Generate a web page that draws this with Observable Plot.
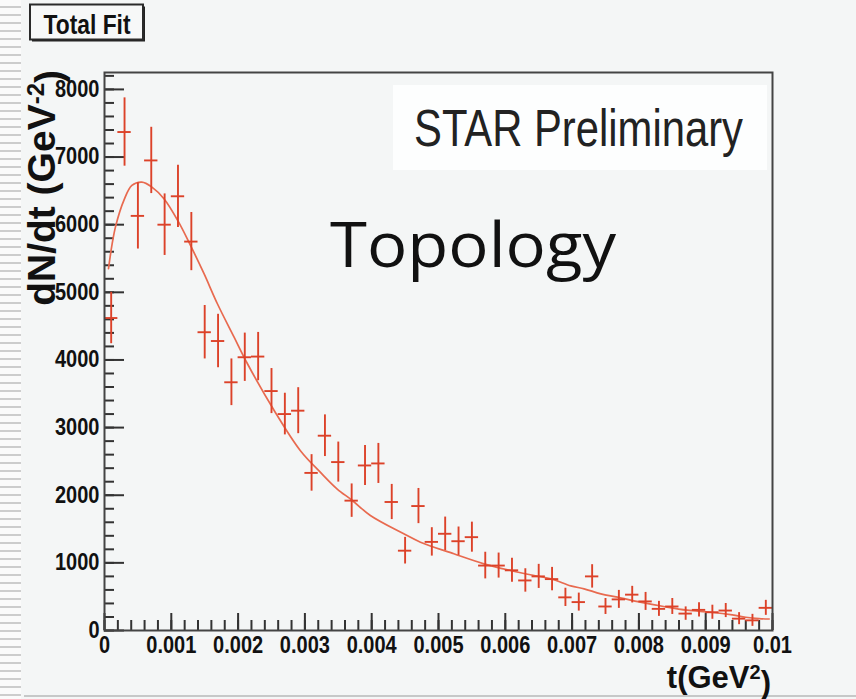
<!DOCTYPE html>
<html>
<head>
<meta charset="utf-8">
<script src="https://cdn.jsdelivr.net/npm/d3@7"></script>
<script src="https://cdn.jsdelivr.net/npm/@observablehq/plot@0.6"></script>
<style>
  html, body { margin: 0; padding: 0; background: #f4f6f6; }
  #wrap { position: relative; width: 856px; height: 699px; overflow: hidden; background: #f4f6f6; }
  #stripes {
    position: absolute; left: 0; top: 0; width: 21px; height: 699px;
    background: repeating-linear-gradient(to bottom, #fbfbfb 0px, #fbfbfb 6px, #cdcdcd 6px, #cdcdcd 8px);
  }
  #edge { position: absolute; left: 24px; right: 0; top: 695px; height: 2px; background: #c6c8c8; }
  #wrap svg { position: absolute; left: 0; top: 0; }
</style>
</head>
<body>
<div id="wrap"><div id="stripes"></div><div id="edge"></div></div>
<script>
// t bin centres (GeV^2), bins 0.0002 wide
const tCenters = [
  0.0001, 0.0003, 0.0005, 0.0007, 0.0009, 0.0011, 0.0013, 0.0015, 0.0017, 0.0019,
  0.0021, 0.0023, 0.0025, 0.0027, 0.0029, 0.0031, 0.0033, 0.0035, 0.0037, 0.0039,
  0.0041, 0.0043, 0.0045, 0.0047, 0.0049, 0.0051, 0.0053, 0.0055, 0.0057, 0.0059,
  0.0061, 0.0063, 0.0065, 0.0067, 0.0069, 0.0071, 0.0073, 0.0075, 0.0077, 0.0079,
  0.0081, 0.0083, 0.0085, 0.0087, 0.0089, 0.0091, 0.0093, 0.0095, 0.0097, 0.0099
];
const binHalfWidth = 0.0001;

// dN/dt per bin (GeV^-2)
const dNdt = [
  4620, 7370, 6130, 6950, 6000, 6420, 5750, 4410, 4280, 3670,
  4040, 4050, 3540, 3200, 3250, 2330, 2880, 2490, 1920, 2440,
  2470, 1900, 1180, 1840, 1310, 1430, 1320, 1380, 960, 960,
  890, 740, 800, 760, 490, 420, 800, 355, 460, 530,
  430, 320, 355, 250, 305, 270, 295, 175, 150, 335
];

// statistical uncertainty per bin
const dNdtErr = [
  380, 505, 490, 490, 455, 460, 430, 395, 395, 345,
  357, 357, 333, 308, 340, 270, 308, 296, 247, 296,
  296, 260, 197, 260, 210, 247, 210, 222, 197, 185,
  178, 173, 178, 173, 135, 133, 173, 118, 133, 123,
  133, 111, 118, 99, 104, 104, 104, 89, 89, 111
];

// total fit function, sampled
const fitT = [
  0.00006, 0.000115, 0.00017, 0.00029, 0.00041, 0.00056, 0.00071, 0.00089, 0.00111, 0.0013,
  0.00149, 0.00169, 0.00194, 0.00214, 0.00254, 0.00293, 0.00323, 0.00348, 0.00371, 0.00398,
  0.00448, 0.00473, 0.00523, 0.00568, 0.00608, 0.00643, 0.00670, 0.00698, 0.00718, 0.00743,
  0.00768, 0.00802, 0.00837, 0.00872, 0.00907, 0.0094, 0.0096, 0.0098, 0.00995
];
const fitV = [
  5350, 5720, 5990, 6360, 6580, 6630, 6556, 6384, 6038, 5668,
  5275, 4831, 4337, 3944, 3253, 2662, 2341, 2095, 1922, 1701,
  1430, 1306, 1134, 986, 887, 813, 760, 660, 616, 542,
  493, 419, 355, 300, 270, 230, 196, 176, 170
];

// axis ticks
const xTickValues = [0, 0.001, 0.002, 0.003, 0.004, 0.005, 0.006, 0.007, 0.008, 0.009, 0.01];
const xTickLabels = ["0", "0.001", "0.002", "0.003", "0.004", "0.005", "0.006", "0.007", "0.008", "0.009", "0.01"];
const yTickValues = [0, 1000, 2000, 3000, 4000, 5000, 6000, 7000, 8000];
const yTickLabels = ["0", "1000", "2000", "3000", "4000", "5000", "6000", "7000", "8000"];
const xMinorTicks = d3.range(0, 51).map(i => i * 0.0002);
const yMinorTicks = d3.range(0, 42).map(i => i * 200);

const W = 856, H = 699;
const mL = 104, mR = 84, mT = 72, mB = 69;
const frameW = W - mL - mR;
const frameH = H - mT - mB;

const points = tCenters.map((t, i) => ({t, v: dNdt[i], e: dNdtErr[i]}));
const fit = fitT.map((t, i) => ({t, v: fitV[i]}));
const xLabel = new Map(xTickValues.map((v, i) => [v, xTickLabels[i]]));
const yLabel = new Map(yTickValues.map((v, i) => [v, yTickLabels[i]]));

const dataColor = "#dc4229";
const fitColor = "#e86a4f";
const axisColor = "#333";
const bold = "'Liberation Sans', Arial, Helvetica, sans-serif";

const chart = Plot.plot({
  width: W, height: H,
  marginLeft: mL, marginRight: mR, marginTop: mT, marginBottom: mB,
  style: {background: "transparent", fontFamily: bold, overflow: "visible"},
  x: {domain: [0, 0.01]},
  y: {domain: [0, 8250]},
  marks: [
    // inward ticks on the bottom and left frame edges
    Plot.ruleX(xMinorTicks, {insetTop: frameH - 10, stroke: axisColor, strokeWidth: 2}),
    Plot.ruleX(xTickValues, {insetTop: frameH - 17, stroke: axisColor, strokeWidth: 2}),
    Plot.ruleY(yMinorTicks, {insetRight: frameW - 10, stroke: axisColor, strokeWidth: 2}),
    Plot.ruleY(yTickValues, {insetRight: frameW - 20, stroke: axisColor, strokeWidth: 2}),
    // fit curve
    Plot.line(fit, {x: "t", y: "v", stroke: fitColor, strokeWidth: 1.7, curve: "catmull-rom"}),
    // data points with error bars
    Plot.ruleX(points, {x: "t", y1: d => d.v - d.e, y2: d => d.v + d.e, stroke: dataColor, strokeWidth: 1.9}),
    Plot.ruleY(points, {y: "v", x1: d => d.t - binHalfWidth, x2: d => d.t + binHalfWidth, stroke: dataColor, strokeWidth: 1.9}),
    Plot.frame({stroke: "#444", strokeWidth: 2}),
    Plot.axisX(xTickValues, {
      tickSize: 0, tickPadding: 6, tickFormat: d => xLabel.get(d), label: null,
      fontSize: 23, fontWeight: "bold", fill: "#111"
    }),
    Plot.axisY(yTickValues, {
      tickSize: 0, tickPadding: 5, tickFormat: d => yLabel.get(d), label: null,
      fontSize: 23, fontWeight: "bold", fill: "#111"
    })
  ]
});

document.getElementById("wrap").appendChild(chart);

const svg = d3.select(chart);

// narrow the bold tick labels so they read tall and condensed
svg.selectAll("g[aria-label$='tick label'] text").each(function() {
  const len = this.getComputedTextLength();
  this.setAttribute("textLength", (len * 0.87).toFixed(1));
  this.setAttribute("lengthAdjust", "spacingAndGlyphs");
});

// "Total Fit" title box with shadow
const title = svg.append("g");
title.append("rect").attr("x", 32).attr("y", 6.5).attr("width", 113).attr("height", 35).attr("fill", "#222");
title.append("rect").attr("x", 30).attr("y", 4.5).attr("width", 113).attr("height", 35)
  .attr("fill", "#f7f8f8").attr("stroke", "#2a2a2a").attr("stroke-width", 2);
title.append("text").attr("x", 87).attr("y", 34).attr("text-anchor", "middle")
  .attr("font-family", bold).attr("font-weight", "bold").attr("font-size", 27)
  .attr("textLength", 87).attr("lengthAdjust", "spacingAndGlyphs")
  .attr("fill", "#111").text("Total Fit");

// preliminary label
svg.append("rect").attr("x", 393).attr("y", 85).attr("width", 374).attr("height", 85).attr("fill", "#fdfefe");
svg.append("text").attr("x", 414).attr("y", 146).attr("text-anchor", "start")
  .attr("font-family", "'Liberation Sans', Arial, sans-serif").attr("font-size", 52)
  .attr("textLength", 329).attr("lengthAdjust", "spacingAndGlyphs")
  .attr("fill", "#222").text("STAR Preliminary");

svg.append("text").attr("x", 330).attr("y", 267).attr("text-anchor", "start")
  .attr("font-family", "'Open Sans', 'Noto Sans', sans-serif").attr("font-size", 63)
  .attr("textLength", 286).attr("lengthAdjust", "spacingAndGlyphs")
  .attr("fill", "#111").text("Topology");

// axis titles
const yTitle = svg.append("text")
  .attr("transform", "translate(55,70) rotate(-90)")
  .attr("text-anchor", "end")
  .attr("font-family", bold).attr("font-weight", "bold").attr("font-size", 39).attr("fill", "#111");
yTitle.append("tspan").text("dN/dt (GeV");
yTitle.append("tspan").attr("dy", "-0.45em").attr("font-size", 24).text("-2");
yTitle.append("tspan").attr("dy", "0.45em").text(")");

const xTitle = svg.append("text")
  .attr("x", 771).attr("y", 688)
  .attr("text-anchor", "end")
  .attr("font-family", bold).attr("font-weight", "bold").attr("font-size", 31).attr("fill", "#111");
xTitle.append("tspan").text("t(GeV");
xTitle.append("tspan").attr("dy", "-0.45em").attr("font-size", 20).text("2");
xTitle.append("tspan").attr("dy", "0.45em").text(")");
</script>
</body>
</html>
